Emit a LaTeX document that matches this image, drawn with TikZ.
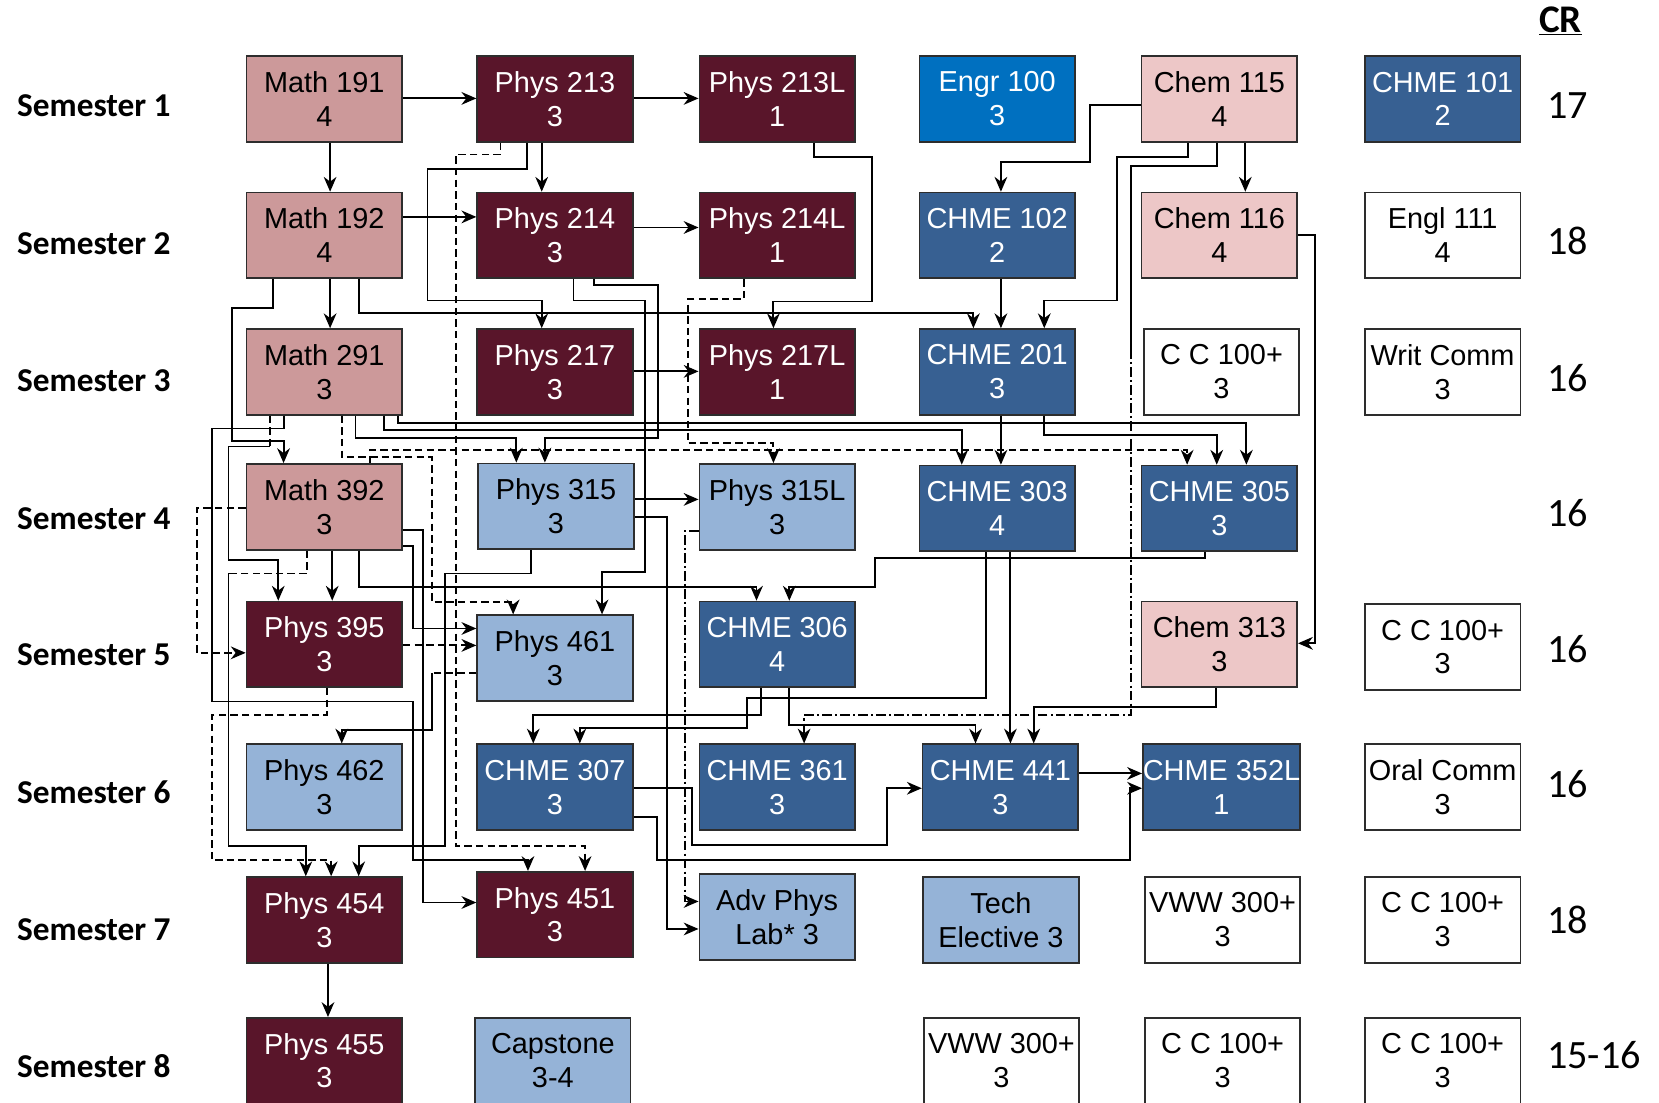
\documentclass[tikz,border=0pt]{standalone}
\usepackage{fontspec}
\setmainfont{Liberation Sans}
\newfontfamily\labfont{Carlito}
\usetikzlibrary{arrows.meta}
\definecolor{mathpink}{RGB}{204,153,154}
\definecolor{physdark}{RGB}{89,21,42}
\definecolor{engrblue}{RGB}{0,112,192}
\definecolor{chempink}{RGB}{237,199,199}
\definecolor{chmeblue}{RGB}{55,96,146}
\definecolor{lightblue}{RGB}{149,179,215}
\definecolor{boxline}{RGB}{45,45,45}
\tikzset{
  course/.style={draw=boxline, line width=1.6pt, minimum width=147pt, minimum height=81pt,
    align=center, inner sep=0pt, font=\fontsize{27.3}{32}\selectfont},
  darktext/.style={text=white},
  semlab/.style={anchor=west, inner sep=0pt, font=\labfont\bfseries\fontsize{31.5}{36}\selectfont},
  crnum/.style={anchor=west, inner sep=0pt, font=\labfont\fontsize{38}{40}\selectfont},
  arr/.style={line width=1.8pt, -{Stealth[length=14pt,width=12pt,inset=4.5pt]}},
  plain/.style={line width=1.8pt},
  dashline/.style={dash pattern=on 7pt off 4pt},
  dashdotline/.style={dash pattern=on 9pt off 3pt on 2pt off 3pt}
}
\begin{document}
\begin{tikzpicture}[x=1pt,y=-1pt]
\useasboundingbox (0,0) rectangle (1568,1042);
\clip (0,0) rectangle (1568,1042);
\fill[white] (0,0) rectangle (1568,1042);
% semester labels
\node[semlab] (s1) at (16,100) {Semester 1};
\node[semlab] (s2) at (16,230) {Semester 2};
\node[semlab] (s3) at (16,360) {Semester 3};
\node[semlab] (s4) at (16,490) {Semester 4};
\node[semlab] (s5) at (16,619) {Semester 5};
\node[semlab] (s6) at (16,749) {Semester 6};
\node[semlab] (s7) at (16,879) {Semester 7};
\node[semlab] (s8) at (16,1008) {Semester 8};
% CR
\node[inner sep=0pt, font=\labfont\bfseries\fontsize{37}{40}\selectfont] (cr) at (1475,20) {\underline{CR}};
\node[crnum] (n1) at (1462,100) {17};
\node[crnum] (n2) at (1462,228) {18};
\node[crnum] (n3) at (1462,357) {16};
\node[crnum] (n4) at (1462,485) {16};
\node[crnum] (n5) at (1462,613) {16};
\node[crnum] (n6) at (1462,741) {16};
\node[crnum] (n7) at (1462,869) {18};
\node[crnum] (n8) at (1462,997) {15-16};
% row 1
\node[course, fill=mathpink] (m191) at (306.5,93.5) {Math 191\\4};
\node[course, fill=physdark, darktext] (p213) at (524.5,93.5) {Phys 213\\3};
\node[course, fill=physdark, darktext] (p213l) at (734.5,93.5) {Phys 213L\\1};
\node[course, fill=engrblue, darktext] (e100) at (942.5,93.5) {Engr 100\\3};
\node[course, fill=chempink] (c115) at (1152.5,93.5) {Chem 115\\4};
\node[course, fill=chmeblue, darktext] (ch101) at (1363.5,93.5) {CHME 101\\2};
% row 2
\node[course, fill=mathpink] (m192) at (306.5,222.5) {Math 192\\4};
\node[course, fill=physdark, darktext] (p214) at (524.5,222.5) {Phys 214\\3};
\node[course, fill=physdark, darktext] (p214l) at (734.5,222.5) {Phys 214L\\1};
\node[course, fill=chmeblue, darktext] (ch102) at (942.5,222.5) {CHME 102\\2};
\node[course, fill=chempink] (c116) at (1152.5,222.5) {Chem 116\\4};
\node[course, fill=white] (en111) at (1363.5,222.5) {Engl 111\\4};
% row 3
\node[course, fill=mathpink] (m291) at (306.5,351.5) {Math 291\\3};
\node[course, fill=physdark, darktext] (p217) at (524.5,351.5) {Phys 217\\3};
\node[course, fill=physdark, darktext] (p217l) at (734.5,351.5) {Phys 217L\\1};
\node[course, fill=chmeblue, darktext] (ch201) at (942.5,351.5) {CHME 201\\3};
\node[course, fill=white] (cc3) at (1154.5,351.5) {C C 100+\\3};
\node[course, fill=white] (wc) at (1363.5,351.5) {Writ Comm\\3};
% row 4
\node[course, fill=mathpink] (m392) at (306.5,479) {Math 392\\3};
\node[course, fill=lightblue] (p315) at (525.5,478.5) {Phys 315\\3};
\node[course, fill=lightblue] (p315l) at (734.5,479) {Phys 315L\\3};
\node[course, fill=chmeblue, darktext] (ch303) at (942.5,480.5) {CHME 303\\4};
\node[course, fill=chmeblue, darktext] (ch305) at (1152.5,480.5) {CHME 305\\3};
% row 5
\node[course, fill=physdark, darktext] (p395) at (306.5,609) {Phys 395\\3};
\node[course, fill=lightblue] (p461) at (524.5,622) {Phys 461\\3};
\node[course, fill=chmeblue, darktext] (ch306) at (734.5,609) {CHME 306\\4};
\node[course, fill=chempink] (c313) at (1152.5,609) {Chem 313\\3};
\node[course, fill=white] (cc5) at (1363.5,611.5) {C C 100+\\3};
% row 6
\node[course, fill=lightblue] (p462) at (306.5,744) {Phys 462\\3};
\node[course, fill=chmeblue, darktext] (ch307) at (524.5,744) {CHME 307\\3};
\node[course, fill=chmeblue, darktext] (ch361) at (734.5,744) {CHME 361\\3};
\node[course, fill=chmeblue, darktext] (ch441) at (945.5,744) {CHME 441\\3};
\node[course, fill=chmeblue, darktext] (ch352) at (1154.5,744) {CHME 352L\\1};
\node[course, fill=white] (oc) at (1363.5,744) {Oral Comm\\3};
% row 7
\node[course, fill=physdark, darktext] (p454) at (306.5,869.5) {Phys 454\\3};
\node[course, fill=physdark, darktext] (p451) at (524.5,864.5) {Phys 451\\3};
\node[course, fill=lightblue] (apl) at (734.5,866.5) {Adv Phys\\Lab* 3};
\node[course, fill=lightblue] (te) at (946,869.5) {Tech\\Elective 3};
\node[course, fill=white] (vww7) at (1155.5,869.5) {VWW 300+\\3};
\node[course, fill=white] (cc7) at (1363.5,869.5) {C C 100+\\3};
% row 8
\node[course, fill=physdark, darktext] (p455) at (306.5,1002.5) {Phys 455\\3};
\node[course, fill=lightblue] (cap) at (522.5,1002.5) {Capstone\\3-4};
\node[course, fill=white] (vww8) at (946.5,1002.5) {VWW 300+\\3};
\node[course, fill=white] (cc8a) at (1155.5,1002.5) {C C 100+\\3};
\node[course, fill=white] (cc8b) at (1363.5,1002.5) {C C 100+\\3};
% ---------- connectors ----------
\draw[arr] (m191.east |- 0,93) -- (p213.west |- 0,93);
\draw[arr] (p213.east |- 0,93) -- (p213l.west |- 0,93);
\draw[arr] (m191.south -| 312,0) -- (m192.north -| 312,0);
\draw[arr] (p213.south -| 512,0) -- (p214.north -| 512,0);
\draw[arr] (m192.east |- 0,205) -- (p214.west |- 0,205);
\draw[arr] (p214.east |- 0,215) -- (p214l.west |- 0,215);
\draw[arr] (m192.south -| 312,0) -- (m291.north -| 312,0);
\draw[arr] (p213.south -| 498,0) |- (404,160) |- (512,284) -- (p217.north -| 512,0);
\draw[arr,dashline] (p213.south -| 473,0) |- (431,146) |- (553,800) -- (p451.north -| 553,0);
\draw[arr] (p213l.south -| 769,0) |- (824,148) |- (731,285) -- (p217l.north -| 731,0);
\draw[arr,dashline] (p214l.south -| 703,0) |- (650,283) |- (731,419) -- (p315l.north -| 731,0);
\draw[arr] (c115.west |- 0,99) -| (1030,153) -| (ch102.north -| 946,0);
\draw[arr] (c115.south -| 1177,0) -- (c116.north -| 1177,0);
\draw[arr] (c115.south -| 1123,0) |- (1056,148) |- (987,284) -- (ch201.north -| 987,0);
\draw[plain] (c115.south -| 1150,0) |- (1069,157) -- (1069,330) coordinate (k1);
\draw[arr,dashdotline] (k1) |- (760,676) -- (ch361.north -| 760,0);
\draw[arr] (c116.east |- 0,222) -| (1243,608) -- (c313.east |- 0,608);
\draw[arr] (ch102.south -| 946,0) -- (ch201.north -| 946,0);
\draw[arr] (m192.south -| 339,0) |- (920,296) -- (ch201.north -| 920,0);
\draw[arr] (m192.south -| 258,0) |- (219,291) |- (268,417) -- (m392.north -| 268,0);
\draw[arr] (p217.east |- 0,351) -- (p217l.west |- 0,351);
\draw[plain,dashline] (m291.south -| 255,0) -- (255,422) coordinate (k2);
\draw[arr] (k2) -| (216,529) -| (p395.north -| 263,0);
\draw[arr] (m291.south -| 268,0) |- (200,405) |- (390,663) |- (499,813) -- (p451.north -| 499,0);
\draw[arr,dashline] (m291.south -| 323,0) |- (408,432) |- (485,569) -- (p461.north -| 485,0);
\draw[arr] (m291.south -| 336,0) |- (488,414) -- (p315.north -| 488,0);
\draw[arr] (m291.south -| 363,0) |- (909,406) -- (ch303.north -| 909,0);
\draw[arr] (m291.south -| 376,0) |- (1178,400) -- (ch305.north -| 1178,0);
\draw[arr] (p214.south -| 561,0) |- (622,269) |- (515,414) -- (p315.north -| 515,0);
\draw[arr] (p214.south -| 542,0) |- (610,284) |- (569,541) -- (p461.north -| 569,0);
\draw[arr] (ch201.south -| 946,0) -- (ch303.north -| 946,0);
\draw[arr] (ch201.south -| 987,0) |- (1150,411) -- (ch305.north -| 1150,0);
\draw[arr,dashline] (m392.north -| 350,0) |- (1122,425) -- (ch305.north -| 1122,0);
\draw[arr] (p315.east |- 0,472) -- (p315l.west |- 0,472);
\draw[arr] (m392.south -| 314,0) -- (p395.north -| 314,0);
\draw[arr,dashline] (m392.west |- 0,480) -| (186,617) -- (p395.west |- 0,617);
\draw[arr] (m392.east |- 0,516) -| (390,594) -- (p461.west |- 0,594);
\draw[arr] (m392.east |- 0,501) -| (400,853) -- (p451.west |- 0,853);
\draw[plain,dashline] (m392.south -| 290,0) |- (216,542) coordinate (k3);
\draw[arr] (k3) |- (289,800) -- (p454.north -| 289,0);
\draw[arr] (m392.south -| 339,0) |- (715,555) -- (ch306.north -| 715,0);
\draw[arr,dashline] (p395.east |- 0,610) -- (p461.west |- 0,610);
\draw[arr,dashline] (p395.south -| 309,0) |- (200,676) |- (313,813) -- (p454.north -| 313,0);
\draw[arr] (p315.south -| 502,0) |- (421,542) |- (339,800) -- (p454.north -| 339,0);
\draw[arr] (p315.east |- 0,489) -| (630,878) -- (apl.west |- 0,878);
\draw[arr,dashdotline] (p315l.west |- 0,502) -| (647,852) -- (apl.west |- 0,852);
\draw[plain,dashline] (p461.west |- 0,636) -- (408,636) coordinate (k4);
\draw[arr] (k4) |- (323,690) -- (p462.north -| 323,0);
\draw[arr] (ch305.south -| 1139,0) |- (827,527) |- (746,555) -- (ch306.north -| 746,0);
\draw[arr] (ch306.south -| 719,0) |- (504,676) -- (ch307.north -| 504,0);
\draw[arr] (ch303.south -| 932,0) |- (706,660) |- (548,688) -- (ch307.north -| 548,0);
\draw[arr] (ch306.south -| 746,0) |- (922,685) -- (ch441.north -| 922,0);
\draw[arr] (ch303.south -| 955,0) -- (ch441.north -| 955,0);
\draw[arr] (c313.south -| 1149,0) |- (977,668) -- (ch441.north -| 977,0);
\draw[arr] (ch307.east |- 0,745) -| (654,799) -| (838,745) -- (ch441.west |- 0,745);
\draw[arr] (ch307.east |- 0,772) -| (621,813) -| (1068,745) -- (ch352.west |- 0,745);
\draw[arr] (ch441.east |- 0,731) -- (ch352.west |- 0,731);
\draw[arr] (p454.south -| 310,0) -- (p455.north -| 310,0);
\end{tikzpicture}
\end{document}
